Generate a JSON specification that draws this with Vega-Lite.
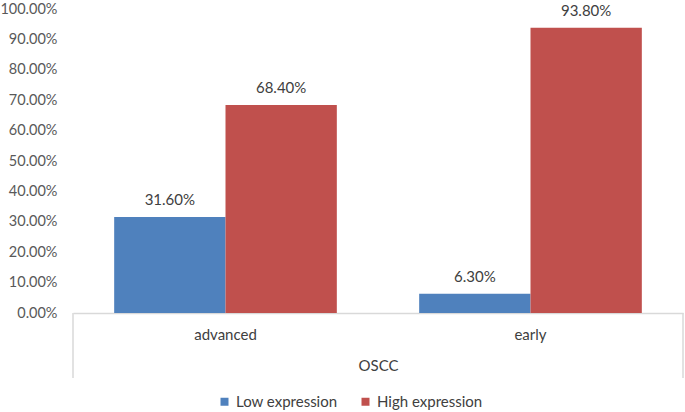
{
  "$schema": "https://vega.github.io/schema/vega-lite/v6.json",
  "width": 610,
  "height": 304,
  "autosize": {"type": "none"},
  "padding": {"left": 73, "top": 9, "right": 2, "bottom": 99},
  "config": {"view": {"stroke": null}, "font": "Lato"},
  "data": {"values": [
    {"stage": "advanced", "expr": "Low expression", "pct": 0.316},
    {"stage": "advanced", "expr": "High expression", "pct": 0.684},
    {"stage": "early", "expr": "Low expression", "pct": 0.063},
    {"stage": "early", "expr": "High expression", "pct": 0.938}
  ]},
  "layer": [
    {
      "encoding": {
        "x": {"field": "stage", "type": "nominal", "title": "OSCC",
          "scale": {"paddingInner": 0.27, "paddingOuter": 0.135},
          "axis": {"labelAngle": 0, "labelFontSize": 15, "labelColor": "#404040", "labelPadding": 14,
            "ticks": false, "domainColor": "#d9d9d9", "domainWidth": 1.5,
            "titleFontSize": 15, "titleFontWeight": "normal", "titleColor": "#404040", "titlePadding": 16}},
        "xOffset": {"field": "expr", "sort": ["Low expression", "High expression"],
          "scale": {"paddingInner": 0, "paddingOuter": 0}},
        "y": {"field": "pct", "type": "quantitative", "title": null,
          "scale": {"domain": [0, 1], "nice": false},
          "axis": {"values": [0, 0.1, 0.2, 0.3, 0.4, 0.5, 0.6, 0.7, 0.8, 0.9, 1], "format": ".2%",
            "labelOverlap": false, "labelFontSize": 14.5, "labelColor": "#595959", "labelPadding": 16,
            "ticks": false, "domain": false, "grid": false}}
      },
      "layer": [
        {
          "mark": {"type": "bar"},
          "encoding": {
            "color": {"field": "expr", "type": "nominal", "title": null,
              "scale": {"domain": ["Low expression", "High expression"], "range": ["#4F81BD", "#C0504D"]},
              "legend": {"orient": "none", "direction": "horizontal", "legendX": 144, "legendY": 385,
                "symbolType": "square", "symbolSize": 64, "symbolStrokeWidth": 0, "labelFontSize": 15,
                "labelColor": "#404040", "labelOffset": 4, "columnPadding": 20}}
          }
        },
        {
          "mark": {"type": "text", "baseline": "bottom", "dy": -9, "fontSize": 15, "fill": "#404040"},
          "encoding": {
            "text": {"field": "pct", "format": ".2%"}
          }
        }
      ]
    },
    {
      "data": {"values": [{"part": "frame"}]},
      "layer": [
        {
          "mark": {"type": "rule", "color": "#d9d9d9", "strokeWidth": 1.5},
          "encoding": {
            "x": {"datum": 0, "type": "quantitative", "scale": {"domain": [0, 1], "nice": false}, "axis": null},
            "y": {"datum": 0, "type": "quantitative", "scale": {"domain": [0, 1], "nice": false}, "axis": null},
            "y2": {"datum": -0.214}
          }
        },
        {
          "mark": {"type": "rule", "color": "#d9d9d9", "strokeWidth": 1.5},
          "encoding": {
            "x": {"datum": 1, "type": "quantitative", "scale": {"domain": [0, 1], "nice": false}, "axis": null},
            "y": {"datum": 0, "type": "quantitative", "scale": {"domain": [0, 1], "nice": false}, "axis": null},
            "y2": {"datum": -0.214}
          }
        }
      ]
    }
  ],
  "resolve": {"scale": {"x": "independent", "y": "independent"}}
}
